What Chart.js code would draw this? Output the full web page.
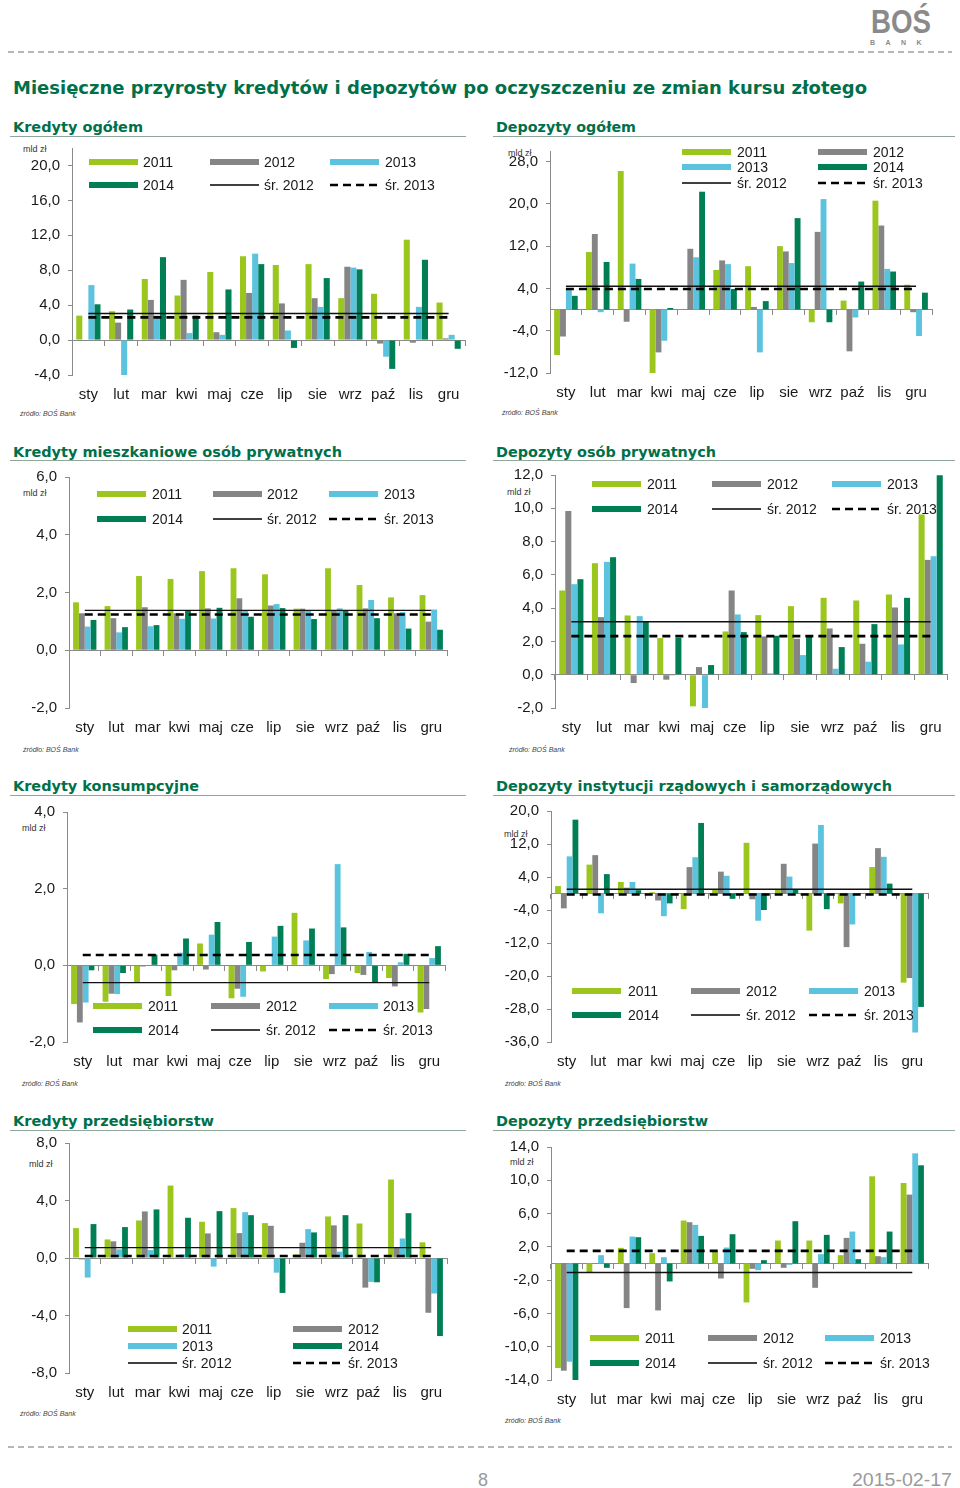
<!DOCTYPE html>
<html><head><meta charset="utf-8">
<script src="https://cdn.jsdelivr.net/npm/chart.js@4.4.1/dist/chart.umd.min.js"></script>
<style>
body{margin:0;background:#fff;}
#page{position:relative;width:960px;height:1488px;overflow:hidden;background:#fff;font-family:"Liberation Sans",Arial,sans-serif;}
.t{position:absolute;white-space:nowrap;line-height:1;transform-origin:left center;}
.title{font-family:"DejaVu Sans",sans-serif;font-weight:bold;color:#00704a;font-size:17px;}
.head{font-family:"DejaVu Sans",sans-serif;font-weight:bold;color:#00704a;font-size:14px;}
.unit{font-size:9px;color:#333;}
.src{font-size:7px;font-style:italic;color:#444;}
.foot{font-size:18px;color:#9a9a9a;}
.logo{font-size:34px;font-weight:bold;color:#8a8a8a;}
.bank{font-size:8px;font-weight:bold;color:#8a8a8a;letter-spacing:12px;}
.hl{position:absolute;height:0;border-top:1.5px solid #8fa89b;}
canvas{position:absolute;}
svg{position:absolute;left:0;top:0;}
</style></head>
<body><div id="page">
<svg width="960" height="1488">
  <line x1="8" y1="52" x2="952" y2="52" stroke="#a0a0a0" stroke-width="1.5" stroke-dasharray="6,4"/>
  <line x1="8" y1="1447" x2="952" y2="1447" stroke="#a0a0a0" stroke-width="1.5" stroke-dasharray="6,4"/>
</svg>
</div>
<script>
// ---------- DATA ----------
const months = ['sty','lut','mar','kwi','maj','cze','lip','sie','wrz','paź','lis','gru'];
const seriesNames = ['2011','2012','2013','2014'];
const avgNames = ['śr. 2012','śr. 2013'];

// Kredyty ogółem
const kredOg2011 = [2.8, 3.3, 7.0, 5.1, 7.8, 9.6, 8.6, 8.7, 4.8, 5.3, 11.5, 4.3];
const kredOg2012 = [-0.1, 2.0, 4.6, 6.9, 0.9, 5.4, 4.2, 4.8, 8.4, -0.4, -0.3, 0.2];
const kredOg2013 = [6.3, -4.0, 2.8, 0.8, 0.6, 9.9, 1.1, 3.8, 8.3, -1.9, 3.8, 0.6];
const kredOg2014 = [4.1, 3.5, 9.5, 2.8, 5.8, 8.7, -0.9, 7.1, 8.1, -3.3, 9.2, -1.0];
const kredOgAvg = [3.05, 2.6];
const kredOgTicks = [-4, 0, 4, 8, 12, 16, 20];

// Depozyty ogółem
const depOg2011 = [-8.6, 10.9, 26.2, -12.3, 0, 7.5, 8.2, 12.0, -2.4, 1.7, 20.6, 4.7];
const depOg2012 = [-5.1, 14.3, -2.3, -8.1, 11.5, 9.3, 0.5, 11.0, 14.7, -7.9, 15.9, -0.5];
const depOg2013 = [4.0, -0.5, 8.7, -5.9, 9.9, 8.6, -8.1, 8.8, 20.9, -1.5, 7.7, -5.0];
const depOg2014 = [2.6, 9.0, 5.8, 0.3, 22.3, 3.9, 1.6, 17.3, -2.4, 5.3, 7.2, 3.2];
const depOgAvg = [4.4, 3.9];
const depOgTicks = [-12, -4, 4, 12, 20, 28];

// Kredyty mieszkaniowe osób prywatnych
const kredMie2011 = [1.66, 1.53, 2.57, 2.47, 2.74, 2.84, 2.63, 1.44, 2.84, 2.26, 1.83, 1.91];
const kredMie2012 = [1.28, 1.11, 1.49, 1.28, 1.45, 1.80, 1.55, 1.44, 1.37, 1.45, 1.28, 0.99];
const kredMie2013 = [0.82, 0.62, 0.83, 1.09, 1.10, 1.39, 1.60, 1.39, 1.45, 1.74, 1.32, 1.41];
const kredMie2014 = [1.05, 0.80, 0.87, 1.37, 1.47, 1.16, 1.46, 1.08, 1.37, 1.11, 0.75, 0.71];
const kredMieAvg = [1.38, 1.24];
const kredMieTicks = [-2, 0, 2, 4, 6];

// Depozyty osób prywatnych
const depOsP2011 = [5.06, 6.70, 3.56, 2.20, -1.90, 2.60, 3.58, 4.12, 4.62, 4.46, 4.82, 9.62];
const depOsP2012 = [9.84, 3.46, -0.50, -0.30, 0.46, 5.06, 2.30, 2.16, 2.78, 1.86, 4.04, 6.90];
const depOsP2013 = [5.44, 6.78, 3.52, -0.05, -2.10, 3.62, 0.08, 1.18, 0.36, 0.78, 1.82, 7.12];
const depOsP2014 = [5.74, 7.06, 3.22, 2.22, 0.58, 2.56, 2.34, 2.34, 1.66, 3.04, 4.62, 11.98];
const depOsPAvg = [3.18, 2.32];
const depOsPTicks = [-2, 0, 2, 4, 6, 8, 10, 12];

// Kredyty konsumpcyjne
const kredKon2011 = [-1.01, -0.95, -0.44, -0.80, 0.57, -0.86, -0.16, 1.37, -0.36, -0.20, -0.33, -1.23];
const kredKon2012 = [-1.49, -0.74, -0.03, -0.13, -0.11, -0.61, 0.0, 0.0, -0.23, -0.25, -0.55, -1.14];
const kredKon2013 = [-0.97, -0.75, 0.0, 0.33, 0.80, -0.82, 0.75, 0.65, 2.64, 0.35, 0.08, 0.19];
const kredKon2014 = [-0.13, -0.20, 0.28, 0.70, 1.13, 0.61, 1.03, 0.96, 0.99, -0.44, 0.30, 0.50];
const kredKonAvg = [-0.45, 0.27];
const kredKonTicks = [-2, 0, 2, 4];

// Depozyty instytucji rządowych i samorządowych
const depRz2011 = [1.8, 7.0, 2.8, 0.3, -3.8, 1.1, 12.3, 1.0, -9.0, -2.4, 6.4, -21.6];
const depRz2012 = [-3.6, 9.3, 1.4, -1.7, 6.4, 5.3, -1.4, 7.2, 12.1, -13.0, 11.0, -20.5];
const depRz2013 = [9.0, -4.8, 2.8, -5.5, 8.8, 4.3, -6.6, 4.1, 16.6, -7.5, 8.9, -33.7];
const depRz2014 = [17.9, 4.7, 0.8, -2.4, 17.1, -1.3, -4.0, 1.1, -3.8, 0.0, 2.4, -27.5];
const depRzAvg = [1.04, -0.24];
const depRzTicks = [-36, -28, -20, -12, -4, 4, 12, 20];

// Kredyty przedsiębiorstw
const kredPrz2011 = [2.08, 1.29, 2.61, 5.04, 2.52, 3.47, 2.43, 0.25, 2.89, 2.40, 5.46, 1.09];
const kredPrz2012 = [-0.10, 1.16, 3.24, 0.05, 1.71, 1.73, 2.24, 1.06, 2.27, -2.06, 0.74, -3.81];
const kredPrz2013 = [-1.36, 0.60, 0.55, 0.25, -0.60, 3.19, -1.02, 2.01, 0.44, -1.66, 1.36, -2.47];
const kredPrz2014 = [2.36, 2.15, 3.38, 2.80, 3.26, 2.98, -2.43, 1.78, 2.98, -1.69, 3.12, -5.43];
const kredPrzAvg = [0.72, 0.14];
const kredPrzTicks = [-8, -4, 0, 4, 8];

// Depozyty przedsiębiorstw
const depPrz2011 = [-12.56, -1.04, 1.88, 1.24, 5.16, 1.44, -4.68, 2.76, 2.76, 1.00, 10.48, 9.68];
const depPrz2012 = [-12.88, 0.0, -5.36, -5.64, 4.96, -1.80, -0.64, -0.52, -2.92, 3.08, 0.88, 8.28];
const depPrz2013 = [-11.80, 1.00, 3.24, 0.76, 4.64, 1.92, -0.80, -0.16, 1.12, 3.84, 0.76, 13.24];
const depPrz2014 = [-14.12, -0.52, 3.16, -2.16, 3.32, 3.52, 0.40, 5.08, 3.44, 0.52, 3.84, 11.80];
const depPrzAvg = [-1.08, 1.52];
const depPrzTicks = [-14, -10, -6, -2, 2, 6, 10, 14];

// ---------- STYLE / LAYOUT ----------
const colors = ['#9ac61e', '#858585', '#5cc3df', '#007f56'];
const FONT = '"Liberation Sans", Arial, sans-serif';
Chart.defaults.font.family = FONT;
const page = document.getElementById('page');

function txt(s, cls, x, y, w) {
  const d = document.createElement('div');
  d.className = 't ' + cls; d.textContent = s;
  d.style.left = x + 'px'; d.style.top = y + 'px';
  d.style.transform = 'translateY(-50%)';
  if (w) d.dataset.w = w;
  page.appendChild(d);
  return d;
}
function hline(x1, x2, y) {
  const d = document.createElement('div'); d.className = 'hl';
  d.style.left = x1 + 'px'; d.style.width = (x2 - x1) + 'px'; d.style.top = y + 'px';
  page.appendChild(d);
}

const fmt = v => v.toFixed(1).replace('.', ',');

const inLegend = {
  id: 'inLegend',
  afterDatasetsDraw(chart, args, o) {
    const ctx = chart.ctx, ds = chart.data.datasets;
    ctx.save();
    ctx.font = '14px ' + FONT; ctx.textBaseline = 'middle'; ctx.textAlign = 'left';
    ds.forEach((d, k) => {
      const col = k % o.cols, row = Math.floor(k / o.cols);
      const bx = o.boxX[col] - o.ox, tx = o.textX[col] - o.ox, y = o.rowY[row] - o.oy;
      if (d.type === 'line') {
        ctx.strokeStyle = '#000'; ctx.lineWidth = d.borderWidth;
        ctx.setLineDash(d.borderDash || []);
        ctx.beginPath(); ctx.moveTo(bx, y); ctx.lineTo(bx + 49, y); ctx.stroke();
        ctx.setLineDash([]);
      } else {
        ctx.fillStyle = d.backgroundColor; ctx.fillRect(bx, y - 3, 49, 6);
      }
      ctx.fillStyle = '#1a1a1a'; ctx.fillText(d.label, tx, y + 1);
    });
    ctx.restore();
  }
};

function makeChart(g, series, avg, ticks, min, max, leg) {
  const padL = 62, padT = 18, padR = 14, padB = 32;
  const ox = Math.round(g.L - padL), oy = Math.round(g.T - padT);
  const W = Math.round(g.R - ox + padR), H = Math.round(g.B - oy + padB);
  const cv = document.createElement('canvas');
  cv.width = W; cv.height = H;
  cv.style.left = ox + 'px'; cv.style.top = oy + 'px';
  cv.style.width = W + 'px'; cv.style.height = H + 'px';
  page.appendChild(cv);
  const datasets = series.map((arr, i) => ({
    type: 'bar', label: seriesNames[i], data: arr, backgroundColor: colors[i],
    borderWidth: 0, barPercentage: 1.0, categoryPercentage: 0.74, order: 2,
    xAxisID: 'x', yAxisID: 'y'
  }));
  datasets.push({
    type: 'line', label: avgNames[0], xAxisID: 'x', yAxisID: 'y',
    data: [{x: months[0], y: avg[0]}, {x: months[months.length - 1], y: avg[0]}],
    borderColor: '#111', borderWidth: 1.4, pointRadius: 0, fill: false, order: 1
  });
  datasets.push({
    type: 'line', label: avgNames[1], xAxisID: 'x', yAxisID: 'y',
    data: [{x: months[0], y: avg[1]}, {x: months[months.length - 1], y: avg[1]}],
    borderColor: '#000', borderWidth: 2.6, borderDash: [8, 5], pointRadius: 0, fill: false, order: 1
  });
  new Chart(cv, {
    type: 'bar',
    data: { labels: months, datasets },
    options: {
      responsive: false, animation: false, events: [],
      layout: { padding: { top: Math.round(g.T) - oy, right: padR, left: 0, bottom: 0 } },
      plugins: {
        legend: { display: false }, tooltip: { enabled: false },
        inLegend: Object.assign({ ox, oy }, leg)
      },
      scales: {
        x: {
          type: 'category', position: 'bottom', offset: true,
          grid: { display: false, drawTicks: false }, border: { display: false },
          ticks: { padding: 11, font: { size: 15 }, color: '#1a1a1a', maxRotation: 0, autoSkip: false },
          afterFit(s) { s.height = H - Math.round(g.B - oy); }
        },
        x0: {
          type: 'category', position: { y: 0 }, offset: true, z: 1, min: 0, max: 11,
          grid: { display: true, drawOnChartArea: false, offset: true, tickLength: 5, color: '#8a8a8a', lineWidth: 1 },
          border: { display: true, color: '#8a8a8a', width: 1 },
          ticks: { display: false }
        },
        y: {
          type: 'linear', position: 'left', min, max,
          afterBuildTicks(s) { s.ticks = ticks.map(v => ({ value: v })); },
          ticks: { callback: v => fmt(v), font: { size: 15 }, color: '#1a1a1a', padding: 8 },
          grid: { drawOnChartArea: false, tickLength: 4, color: '#8a8a8a' },
          border: { color: '#8a8a8a', width: 1 },
          afterFit(s) { s.width = Math.round(g.L) - ox; }
        }
      }
    },
    plugins: [inLegend]
  });
}

// ---------- TEXT ----------
txt('BOŚ', 'logo', 871, 21, 60);
txt('BANK', 'bank', 870, 43, 62);
txt('Miesięczne przyrosty kredytów i depozytów po oczyszczeniu ze zmian kursu złotego', 'title', 13, 88, 854);

const heads = [
  ['Kredyty ogółem', 13, 127, 130], ['Depozyty ogółem', 496, 127, 140],
  ['Kredyty mieszkaniowe osób prywatnych', 13, 452, 329], ['Depozyty osób prywatnych', 496, 452, 220],
  ['Kredyty konsumpcyjne', 13, 786, 186], ['Depozyty instytucji rządowych i samorządowych', 496, 786, 396],
  ['Kredyty przedsiębiorstw', 13, 1121, 201], ['Depozyty przedsiębiorstw', 496, 1121, 212]
];
heads.forEach(h => txt(h[0], 'head', h[1], h[2], h[3]));
[136, 460, 795, 1130].forEach(y => { hline(10, 466, y); hline(493, 955, y); });

[[23,149],[508,153],[23,493],[507,492],[22,828],[504,834],[29,1164],[510,1162]].forEach(p => txt('mld zł', 'unit', p[0], p[1]));
[[20,413],[502,412],[23,749],[509,749],[22,1083],[505,1083],[20,1413],[505,1420]].forEach(p => txt('źródło: BOŚ Bank', 'src', p[0], p[1]));

txt('8', 'foot', 478, 1480);
txt('2015-02-17', 'foot', 852, 1480, 100);

// ---------- CHARTS ----------
const leg3 = (bx, tx, ry) => ({ cols: 3, boxX: bx, textX: tx, rowY: ry });
const leg2 = (bx, tx, ry) => ({ cols: 2, boxX: bx, textX: tx, rowY: ry });

makeChart({L:72, R:465, T:147.5, B:375}, [kredOg2011, kredOg2012, kredOg2013, kredOg2014], kredOgAvg, kredOgTicks, -4, 22,
  leg3([89, 210, 330], [143, 264, 385], [162, 185]));
makeChart({L:550, R:932, T:151, B:373}, [depOg2011, depOg2012, depOg2013, depOg2014], depOgAvg, depOgTicks, -12, 30,
  leg2([682, 818], [737, 873], [152, 167, 183]));
makeChart({L:69, R:447, T:476.7, B:708.3}, [kredMie2011, kredMie2012, kredMie2013, kredMie2014], kredMieAvg, kredMieTicks, -2, 6,
  leg3([97, 213, 329], [152, 267, 384], [494, 519]));
makeChart({L:555, R:947, T:475, B:708}, [depOsP2011, depOsP2012, depOsP2013, depOsP2014], depOsPAvg, depOsPTicks, -2, 12,
  leg3([592, 712, 832], [647, 767, 887], [484, 509]));
makeChart({L:67, R:445, T:811.7, B:1042.3}, [kredKon2011, kredKon2012, kredKon2013, kredKon2014], kredKonAvg, kredKonTicks, -2, 4,
  leg3([93, 211, 329], [148, 266, 383], [1006, 1030]));
makeChart({L:551, R:928, T:811, B:1042.3}, [depRz2011, depRz2012, depRz2013, depRz2014], depRzAvg, depRzTicks, -36, 20,
  leg3([572, 691, 809], [628, 746, 864], [991, 1015]));
makeChart({L:69, R:447, T:1142.7, B:1373.3}, [kredPrz2011, kredPrz2012, kredPrz2013, kredPrz2014], kredPrzAvg, kredPrzTicks, -8, 8,
  leg2([128, 293], [182, 348], [1329, 1346, 1363]));
makeChart({L:551, R:928, T:1146.7, B:1379.7}, [depPrz2011, depPrz2012, depPrz2013, depPrz2014], depPrzAvg, depPrzTicks, -14, 14,
  leg3([590, 708, 825], [645, 763, 880], [1338, 1363]));

// fit texts with a target width
function fitAll() {
  document.querySelectorAll('[data-w]').forEach(el => {
    el.style.transform = 'translateY(-50%)';
    const w = el.getBoundingClientRect().width;
    const k = parseFloat(el.dataset.w) / w;
    el.style.transform = 'translateY(-50%) scaleX(' + k.toFixed(4) + ')';
  });
}
fitAll();
if (document.fonts && document.fonts.ready) document.fonts.ready.then(fitAll);
</script>
</body></html>
